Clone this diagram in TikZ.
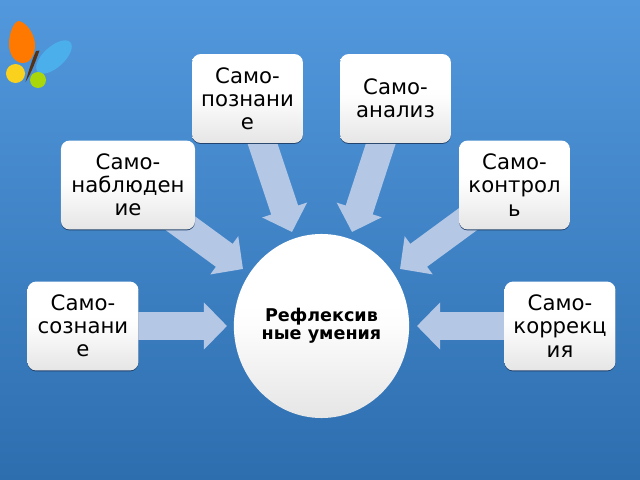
\documentclass[tikz,border=0pt]{standalone}
\usepackage{fontspec}
\setmainfont{DejaVu Sans}
\usetikzlibrary{arrows.meta,backgrounds,shapes.geometric,shadows}
\definecolor{bgtop}{RGB}{82,152,220}
\definecolor{bgbottom}{RGB}{45,110,175}
\definecolor{arrowblue}{RGB}{180,200,230}
\definecolor{edgeblue}{RGB}{30,60,100}
\definecolor{wingorange}{RGB}{255,120,0}
\definecolor{wingblue}{RGB}{75,175,235}
\definecolor{wingyellow}{RGB}{250,210,30}
\definecolor{winggreen}{RGB}{170,215,10}
\definecolor{bodybrown}{RGB}{85,50,20}
\pgfdeclareverticalshading{boxshade}{100bp}{color(0bp)=(black!10); color(25bp)=(black!10); color(50bp)=(black!1); color(56bp)=(white); color(100bp)=(white)}
\tikzset{
    skillbox/.style={shade, shading=boxshade, rounded corners=6pt, drop shadow={shadow xshift=0pt, shadow yshift=-0.7pt, opacity=0.9, fill=edgeblue},
        minimum width=2.77cm, minimum height=2.22cm, align=center, font=\fontsize{15.1}{16.5}\selectfont, inner sep=0pt},
    blockarrow/.style={draw=arrowblue, line width=0.71cm, -{Triangle[width=1.15cm, length=0.58cm]}}
}
\begin{document}
\begin{tikzpicture}[x=0.025cm, y=-0.025cm]
        \useasboundingbox (0,0) rectangle (640,480);

        \node[skillbox] (poznanie) at (247.5,98.5) {Само-\\познани\\е};
        \node[skillbox] (analiz) at (395.5,98.5) {Само-\\анализ};
        \node[skillbox, minimum width=3.35cm] (nablyud) at (128,185) {Само-\\наблюден\\ие};
        \node[skillbox] (kontrol) at (514.5,185) {Само-\\контрол\\ь};
        \node[skillbox] (soznanie) at (83,326) {Само-\\сознани\\е};
        \node[skillbox] (korrek) at (560,326) {Само-\\коррекц\\ия};
        \node[ellipse, shade, shading=boxshade, minimum width=4.38cm, minimum height=4.6cm,
            inner sep=0pt, align=center, font=\fontsize{12.5}{12.9}\selectfont\bfseries] (umeniya) at (321.5,326) {Рефлексив\\ные умения};

        \coordinate (tipa) at (292,232);
        \coordinate (tipb) at (352,232);
        \coordinate (tipc) at (243,269);
        \coordinate (tipd) at (400,269);
        \coordinate (tipe) at (227,326);
        \coordinate (tipf) at (417,326);

        \begin{scope}[on background layer]
            \shade[top color=bgtop, bottom color=bgbottom, middle color=bgtop!50!bgbottom] (0,0) rectangle (640,480);

            % butterfly
            \fill[wingorange] (19,21) .. controls (28,23) and (36,37) .. (35,47) .. controls (34,58) and (28,64) .. (22,63) .. controls (13,62) and (9,52) .. (9,44) .. controls (9,33) and (14,21) .. (19,21) -- cycle;
            \fill[wingblue] (54,57) ellipse [x radius=22, y radius=10.5, rotate=42];
            \fill[wingyellow] (15.5,73.5) ellipse [x radius=9.5, y radius=9.5];
            \fill[winggreen] (38,80) ellipse [x radius=8, y radius=8];
            \fill[bodybrown] (39.5,50.5) .. controls (36,60) and (32,72) .. (25.5,82) .. controls (29,70) and (32,60) .. (36,51) -- cycle;

            \draw[blockarrow] (poznanie.center) -- (tipa);
            \draw[blockarrow] (analiz.center) -- (tipb);
            \draw[blockarrow] (nablyud.center) -- (tipc);
            \draw[blockarrow] (kontrol.center) -- (tipd);
            \draw[blockarrow] (soznanie.center) -- (tipe);
            \draw[blockarrow] (korrek.center) -- (tipf);
        \end{scope}
    \end{tikzpicture}
\end{document}
